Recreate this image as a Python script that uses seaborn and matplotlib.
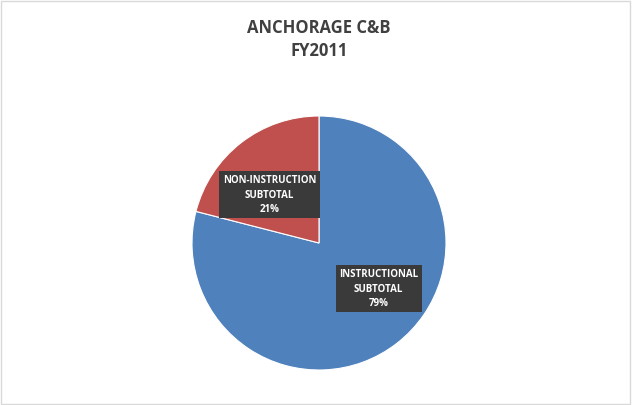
import matplotlib
matplotlib.use("Agg")
import matplotlib.pyplot as plt
import seaborn as sns
from matplotlib.patches import Rectangle

sns.set_theme(style="white")
plt.rcParams["font.family"] = ["Open Sans", "DejaVu Sans"]

categories = ["INSTRUCTIONAL\nSUBTOTAL", "NON-INSTRUCTION\nSUBTOTAL"]
shares = [79, 21]
colors = ["#4F81BD", "#C0504D"]
title = "ANCHORAGE C&B\nFY2011"

fig = plt.figure(figsize=(6.32, 4.06), dpi=100)
fig.patches.append(Rectangle((0.002, 0.003), 0.995, 0.993, transform=fig.transFigure,
                             fill=False, edgecolor="#D9D9D9", linewidth=1))
fig.text(0.505, 0.952, title, ha="center", va="top", fontsize=12,
         fontweight="bold", color="#404040", linespacing=1.3)

ax = fig.add_axes([192 / 632, 35 / 406, 254 / 632, 254 / 406])
wedges, texts = ax.pie(shares, colors=colors, startangle=90, counterclock=False,
                       wedgeprops=dict(edgecolor="white", linewidth=0.8),
                       labels=[f"{c}\n{v}%" for c, v in zip(categories, shares)],
                       labeldistance=0.6)
ax.set_xlim(-1, 1)
ax.set_ylim(-1, 1)
label_pos = [(0.47, -0.355), (-0.39, 0.385)]
for t, pos in zip(texts, label_pos):
    t.set_position(pos)
    t.set_ha("center")
    t.set_va("center")
    t.set_fontsize(7)
    t.set_fontweight("bold")
    t.set_color("white")
    t.set_linespacing(1.45)
    t.set_bbox(dict(boxstyle="square,pad=0.35", facecolor="#3A3A3A", edgecolor="none"))
ax.set_aspect("equal")

fig.savefig("out.png", dpi=100)
